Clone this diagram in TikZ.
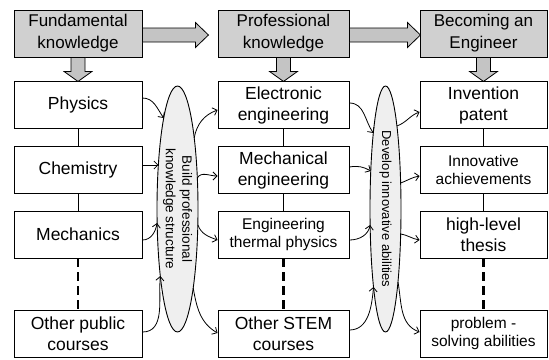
\documentclass[tikz,border=0pt]{standalone}
\usepackage{fontspec}
\setmainfont{Liberation Sans}
\usetikzlibrary{shapes.geometric,arrows.meta,calc}
\definecolor{hdr}{HTML}{D0D0D0}
\definecolor{fatfill}{HTML}{C4C4C4}
\definecolor{ovl}{HTML}{EFEFEF}
\begin{document}
\begin{tikzpicture}[x=1pt,y=1pt,
 box/.style={draw, line width=0.9pt, minimum height=47pt, inner sep=1pt, align=center, font=\fontsize{17.5}{21}\selectfont},
 head/.style={box, fill=hdr, font=\fontsize{17}{22}\selectfont},
 small/.style={font=\fontsize{15.5}{18.5}\selectfont},
 colL/.style={minimum width=128pt},
 colM/.style={minimum width=131pt},
 colR/.style={minimum width=127pt},
 fat/.style={draw, line width=0.8pt, fill=fatfill, line join=miter},
 link/.style={line width=0.9pt},
 dashlink/.style={line width=2.8pt, dash pattern=on 9pt off 5pt},
 arr/.style={line width=0.8pt, -{Straight Barb[length=4pt,width=8pt]}},
 oval/.style={ellipse, draw, line width=0.9pt, fill=ovl, inner sep=0pt}
]
\useasboundingbox (0,0) rectangle (549,-359);

% header row
\node[head,colL] (fund) at (78,-33.5) {Fundamental\\knowledge};
\node[head,colM] (prof) at (283.5,-33.5) {Professional\\knowledge};
\node[head,colR] (beng) at (483.5,-33.5) {Becoming an\\Engineer};

% left column
\node[box,colL] (phys) at (78,-105) {Physics};
\node[box,colL] (chem) at (78,-170) {Chemistry};
\node[box,colL] (mech) at (78,-234.5) {Mechanics};
\node[box,colL] (othp) at (78,-333.5) {Other public\\courses};

% middle column
\node[box,colM] (elec) at (283.5,-105) {Electronic\\engineering};
\node[box,colM] (mece) at (283.5,-170) {Mechanical\\engineering};
\node[box,colM,small] (therm) at (283.5,-234.5) {Engineering\\thermal physics};
\node[box,colM] (stem) at (283.5,-333.5) {Other STEM\\courses};

% right column
\node[box,colR] (inv) at (483.5,-105) {Invention\\patent};
\node[box,colR,small] (innov) at (483.5,-170) {Innovative\\achievements};
\node[box,colR] (thes) at (483.5,-234.5) {high-level\\thesis};
\node[box,colR,small] (prob) at (483.5,-333.5) {problem -\\solving abilities};

% ovals
\node[oval, minimum width=41pt, minimum height=246pt] (ovL) at (177.5,-209) {};
\node[rotate=-90, align=center, font=\fontsize{13.5}{16.5}\selectfont] (txL) at (ovL.center) {Build professional\\knowledge structure};
\node[oval, minimum width=31pt, minimum height=246pt] (ovR) at (385.5,-209) {};
\node[rotate=-90, font=\fontsize{13}{16}\selectfont] (txR) at (ovR.center) {Develop innovative abilities};

% fat arrows
\draw[fat] ($(fund.east)+(0,-1.5)$) ++(0,7) -- ++(53,0) -- ++(0,5.5) -- ++(13,-12.5) -- ++(-13,-12.5) -- ++(0,5.5) -- ++(-53,0) -- cycle;
\draw[fat] ($(prof.east)+(0,-1.5)$) ++(0,7) -- ++(58,0) -- ++(0,5.5) -- ++(13,-12.5) -- ++(-13,-12.5) -- ++(0,5.5) -- ++(-58,0) -- cycle;
\foreach \n in {fund,prof,beng}{
  \draw[fat] (\n.south) ++(-7,0) -- ++(0,-14) -- ++(-7,0) -- ++(14,-10) -- ++(14,10) -- ++(-7,0) -- ++(0,14) -- cycle;
}

% vertical links
\draw[link] (phys) -- (chem);
\draw[link] (chem) -- (mech);
\draw[dashlink] (mech) -- (othp);
\draw[link] (elec) -- (mece);
\draw[link] (mece) -- (therm);
\draw[dashlink] (therm) -- (stem);
\draw[link] (inv) -- (innov);
\draw[link] (innov) -- (thes);
\draw[dashlink] (thes) -- (prob);

% points on oval borders
\coordinate (l1) at (163.7,-118);
\coordinate (l2) at (158.4,-165);
\coordinate (l3) at (157.1,-223);
\coordinate (l4) at (160.3,-276);
\coordinate (r1) at (194.2,-138);
\coordinate (r2) at (197.3,-178);
\coordinate (r3) at (197.9,-225);
\coordinate (r4) at (193.2,-288);
\coordinate (m1) at (373.3,-133);
\coordinate (m2) at (370.8,-171);
\coordinate (m3) at (370.1,-225);
\coordinate (m4) at (373.5,-287);
\coordinate (n1) at (396.9,-126);
\coordinate (n2) at (400.6,-183);
\coordinate (n3) at (400.7,-234);
\coordinate (n4) at (398.0,-282);

% into left oval
\draw[arr] ($(phys.east)+(0,7)$) to[out=0,in=125] (l1);
\draw[arr] ($(chem.east)+(0,5)$) -- (l2);
\draw[arr] ($(mech.east)+(0,-5.5)$) to[out=0,in=-100] (l3);
\draw[arr] ($(othp.east)+(0,1.5)$) to[out=0,in=-95] (l4);
% out of left oval
\draw[arr] (r1) to[out=80,in=-160] ($(elec.west)+(0,-5)$);
\draw[arr] (r2) to[out=60,in=180] ($(mece.west)+(0,-6)$);
\draw[arr] (r3) to[out=-70,in=160] ($(therm.west)+(0,-5.5)$);
\draw[arr] (r4) to[out=-80,in=150] ($(stem.west)+(0,0.5)$);
% into right oval
\draw[arr] ($(elec.east)+(0,2)$) to[out=0,in=125] (m1);
\draw[arr] ($(mece.east)+(0,3)$) to[out=10,in=150] (m2);
\draw[arr] ($(therm.east)+(0,-5.5)$) to[out=0,in=-100] (m3);
\draw[arr] ($(stem.east)+(0,3.5)$) to[out=0,in=-95] (m4);
% out of right oval
\draw[arr] (n1) to[out=20,in=-160] ($(inv.west)+(0,-7)$);
\draw[arr] (n2) to[out=20,in=-170] ($(innov.west)+(0,-6)$);
\draw[arr] (n3) to[out=-10,in=170] ($(thes.west)+(0,-5.5)$);
\draw[arr] (n4) to[out=-80,in=160] ($(prob.west)+(0,1.5)$);
\end{tikzpicture}
\end{document}
